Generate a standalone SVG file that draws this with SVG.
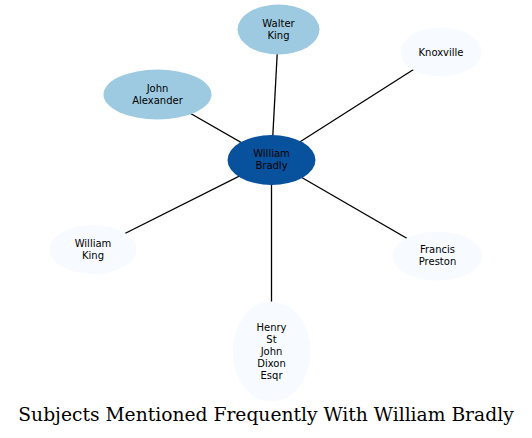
<svg xmlns="http://www.w3.org/2000/svg" width="532" height="438" viewBox="0 0 532 438">
<style>
.e{stroke:#000;stroke-width:1.3;fill:none}
.t{font-family:"DejaVu Sans",sans-serif;font-size:10px;text-anchor:middle;fill:#000}
.c{fill:#08519c}
.m{fill:#9ecae1}
.l{fill:#f7fbff}
.title{font-family:"DejaVu Serif",serif;font-size:18.7px;text-anchor:middle;fill:#000}
</style>
<rect width="532" height="438" fill="#fff"/>
<g id="edges">
<line class="e" x1="271.5" y1="160" x2="278.5" y2="29.5"/>
<line class="e" x1="271.5" y1="160" x2="157.5" y2="94.5"/>
<line class="e" x1="271.5" y1="160" x2="441" y2="52"/>
<line class="e" x1="271.5" y1="160" x2="93" y2="249.5"/>
<line class="e" x1="271.5" y1="160" x2="437.5" y2="256"/>
<line class="e" x1="271.5" y1="160" x2="271.5" y2="351.5"/>
</g>
<g id="walter_king">
<ellipse class="m" cx="278.5" cy="29.5" rx="41" ry="25"/>
<text class="t" x="278.5" y="26.5">Walter</text>
<text class="t" x="278.5" y="38.5">King</text>
</g>
<g id="john_alexander">
<ellipse class="m" cx="157.5" cy="94.5" rx="54" ry="25"/>
<text class="t" x="157.5" y="91.5">John</text>
<text class="t" x="157.5" y="103.5">Alexander</text>
</g>
<g id="knoxville">
<ellipse class="l" cx="441" cy="52" rx="40.5" ry="24.5"/>
<text class="t" x="441" y="55.5">Knoxville</text>
</g>
<g id="william_bradly">
<ellipse class="c" cx="271.5" cy="160" rx="44" ry="25"/>
<text class="t" x="271.5" y="157">William</text>
<text class="t" x="271.5" y="169">Bradly</text>
</g>
<g id="william_king">
<ellipse class="l" cx="93" cy="249.5" rx="43.5" ry="24.5"/>
<text class="t" x="93" y="246.5">William</text>
<text class="t" x="93" y="258.5">King</text>
</g>
<g id="francis_preston">
<ellipse class="l" cx="437.5" cy="256" rx="45" ry="24.5"/>
<text class="t" x="437.5" y="253">Francis</text>
<text class="t" x="437.5" y="265">Preston</text>
</g>
<g id="henry_st_john_dixon_esqr">
<ellipse class="l" cx="271.5" cy="351.5" rx="39" ry="50"/>
<text class="t" x="271.5" y="330.5">Henry</text>
<text class="t" x="271.5" y="342.5">St</text>
<text class="t" x="271.5" y="354.5">John</text>
<text class="t" x="271.5" y="366.5">Dixon</text>
<text class="t" x="271.5" y="378.5">Esqr</text>
</g>
<text class="title" x="266" y="421">Subjects Mentioned Frequently With William Bradly</text>
</svg>
